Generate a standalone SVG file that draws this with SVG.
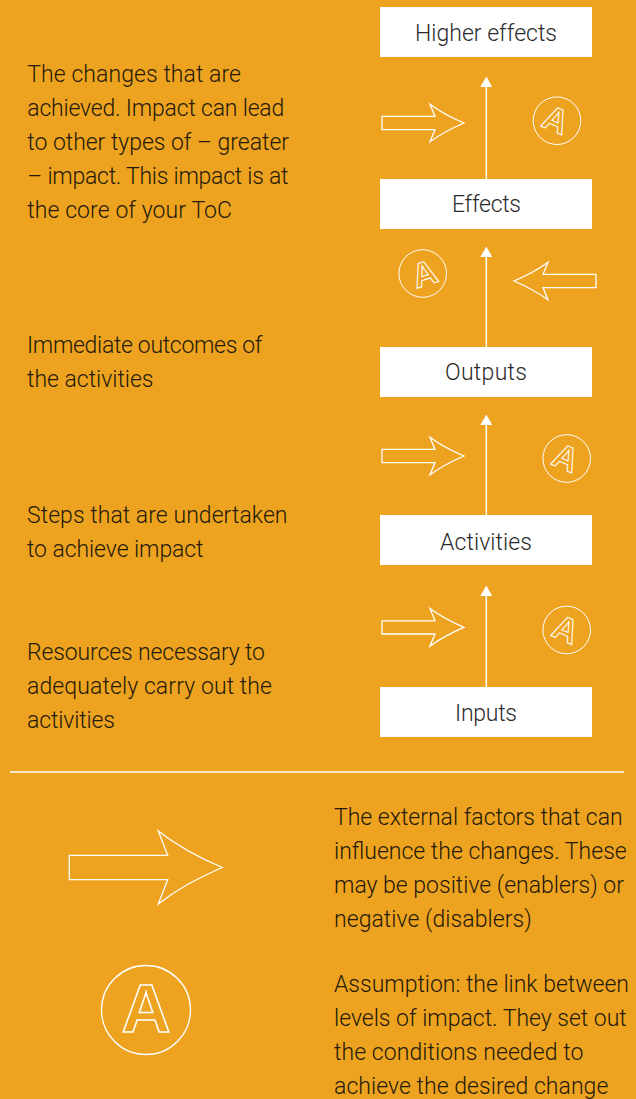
<svg xmlns="http://www.w3.org/2000/svg" width="636" height="1099" viewBox="0 0 636 1099">
<style>
text{font-family:"Roboto","Liberation Sans",sans-serif;font-weight:300;font-size:23px;fill:#241a0a}
.box rect{fill:#fff}
.box text{text-anchor:middle;fill:#2b2b2b}
.o{fill:none;stroke:#fff;stroke-width:1.3}
.s{stroke-width:1}
text.a{font-family:"Liberation Sans",sans-serif;font-weight:700;fill:none;stroke:#fff;stroke-width:1;text-anchor:middle;font-size:34px}
text.b{font-size:68px;stroke-width:1.5}
.c line{stroke:#fff;stroke-width:1.5;marker-end:url(#h)}
</style>
<defs>
<marker id="h" markerUnits="userSpaceOnUse" markerWidth="12" markerHeight="12" refX="0" refY="6" orient="auto"><path d="M0 0L10.5 6L0 12Z" fill="#fff"/></marker>
<path id="sa" class="o" d="M0-6.6H53L48-18.8Q62-8.5 82 0Q62 8.5 48 18.8L53 6.6H0Z"/>
<path id="ba" class="o" d="M0-12.2H98.4L89-36.5Q115-16 153 0Q115 16 89 36.5L98.4 12.2H0Z"/>
</defs>
<rect width="636" height="1099" fill="#EEA320"/>
<g id="connectors" class="c">
<line x1="486.3" y1="179" x2="486.3" y2="87"/>
<line x1="486.3" y1="347" x2="486.3" y2="257"/>
<line x1="486.3" y1="515" x2="486.3" y2="425"/>
<line x1="486.3" y1="687" x2="486.3" y2="596"/>
</g>
<g id="node-higher-effects" class="box"><rect x="380" y="7" width="212" height="50"/><text x="486" y="41" textLength="142">Higher effects</text></g>
<g id="node-effects" class="box"><rect x="380" y="179" width="212" height="50"/><text x="486.5" y="212" textLength="69">Effects</text></g>
<g id="node-outputs" class="box"><rect x="380" y="347" width="212" height="50"/><text x="486" y="380" textLength="82">Outputs</text></g>
<g id="node-activities" class="box"><rect x="380" y="515" width="212" height="50"/><text x="486" y="550" textLength="92">Activities</text></g>
<g id="node-inputs" class="box"><rect x="380" y="687" width="212" height="50"/><text x="486" y="721" textLength="62">Inputs</text></g>
<g id="factor-1"><use href="#sa" x="382" y="123"/></g>
<g id="factor-2"><use href="#sa" transform="translate(596 281) rotate(180)"/></g>
<g id="factor-3"><use href="#sa" x="382" y="456"/></g>
<g id="factor-4"><use href="#sa" x="382" y="627.4"/></g>
<g id="assumption-1"><circle class="o s" cx="557" cy="120.7" r="23.8"/><text class="a" transform="translate(556 119.5) rotate(23)" y="12">A</text></g>
<g id="assumption-2"><circle class="o s" cx="422.7" cy="273.5" r="23.8"/><text class="a" transform="translate(424.5 273.5) rotate(-17)" y="12">A</text></g>
<g id="assumption-3"><circle class="o s" cx="566.7" cy="458.5" r="23.8"/><text class="a" transform="translate(566 457.5) rotate(23)" y="12">A</text></g>
<g id="assumption-4"><circle class="o s" cx="566.7" cy="630" r="23.8"/><text class="a" transform="translate(566 629) rotate(23)" y="12">A</text></g>
<g id="desc-effects"><text x="27.3" y="82" textLength="213.7">The changes that are</text><text x="27.3" y="116" textLength="257">achieved. Impact can lead</text><text x="27.3" y="150" textLength="261.7">to other types of – greater</text><text x="27.3" y="184" textLength="261.2">– impact. This impact is at</text><text x="27.3" y="218" textLength="204.7">the core of your ToC</text></g>
<g id="desc-outputs"><text x="27" y="353" textLength="235.5">Immediate outcomes of</text><text x="27" y="387" textLength="126.5">the activities</text></g>
<g id="desc-activities"><text x="27" y="523" textLength="260.5">Steps that are undertaken</text><text x="27" y="557" textLength="176.5">to achieve impact</text></g>
<g id="desc-inputs"><text x="27" y="660" textLength="238">Resources necessary to</text><text x="27" y="694" textLength="245">adequately carry out the</text><text x="27" y="728" textLength="88">activities</text></g>
<line id="divider" x1="10" y1="772" x2="624" y2="772" stroke="#fff" stroke-width="1.5"/>
<g id="legend-arrow"><use href="#ba" x="69.3" y="867.5"/></g>
<g id="legend-assumption"><circle class="o" cx="146" cy="1010" r="44.5"/><text class="a b" x="146" y="1032">A</text></g>
<g id="legend-arrow-text"><text x="334" y="825" textLength="288.7">The external factors that can</text><text x="334" y="859" textLength="292.7">influence the changes. These</text><text x="334" y="893" textLength="290">may be positive (enablers) or</text><text x="334" y="927" textLength="197.7">negative (disablers)</text></g>
<g id="legend-assumption-text"><text x="334" y="992" textLength="295">Assumption: the link between</text><text x="334" y="1026" textLength="292.7">levels of impact. They set out</text><text x="334" y="1060" textLength="249.3">the conditions needed to</text><text x="334" y="1094" textLength="274.3">achieve the desired change</text></g>
</svg>
